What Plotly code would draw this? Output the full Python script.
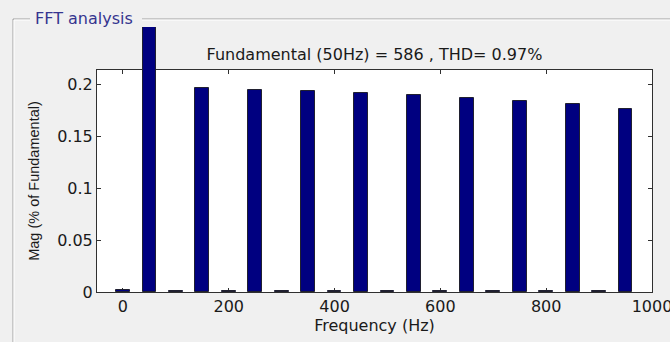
import plotly.graph_objects as go

# Harmonic spectrum, DC up to the 19th harmonic of 50 Hz
freq_hz = [0, 50, 100, 150, 200, 250, 300, 350, 400, 450,
           500, 550, 600, 650, 700, 750, 800, 850, 900, 950]
mag_pct = [0.0018, 100.0, 0.0012, 0.1958, 0.0012, 0.1945, 0.0012, 0.1936, 0.0012, 0.1916,
           0.0012, 0.1894, 0.0012, 0.1862, 0.0012, 0.1833, 0.0012, 0.1804, 0.0012, 0.1760]
x_ticks = [0, 200, 400, 600, 800, 1000]
y_ticks = [0, 0.05, 0.1, 0.15, 0.2]
y_tick_text = ["0", "0.05", "0.1", "0.15", "0.2"]

W, H = 670, 342
L, R, T, B = 97, 652, 70, 292          # axes box in pixels
TOP_CLIP = 27                           # bars may run above the axes up to here
X_RANGE = [-49, 1000]
Y_MAX = 0.2135

BG = "#f0f0f0"
INK = "#1a1a1a"
FONT = "DejaVu Sans"


def px(x):
    return (x - L) / (R - L)


def py(y):
    return (B - y) / (B - TOP_CLIP)


main_top = py(T)

fig = go.Figure()
# empty trace so the framed axes get drawn
fig.add_trace(go.Scatter(x=[None], y=[None], xaxis="x", yaxis="y",
                         showlegend=False, hoverinfo="skip", mode="markers"))
fig.add_trace(go.Bar(
    x=freq_hz, y=mag_pct, width=26,
    marker=dict(color="#000080", line=dict(color="#202030", width=1)),
    xaxis="x2", yaxis="y2", showlegend=False, hoverinfo="x+y",
))

axis_common = dict(
    showline=True, linecolor="#303030", linewidth=1, mirror="allticks",
    ticks="inside", ticklen=4, tickcolor="#303030", showgrid=False, zeroline=False,
    tickfont=dict(family=FONT, size=16, color=INK), ticklabeloverflow="allow",
    automargin=False,
)

fig.update_layout(
    width=W, height=H,
    margin=dict(l=L, r=W - R, t=TOP_CLIP, b=H - B, autoexpand=False),
    paper_bgcolor=BG, plot_bgcolor="rgba(0,0,0,0)",
    xaxis=dict(range=X_RANGE, tickvals=x_ticks, ticktext=[str(v) for v in x_ticks],
               domain=[0, 1], anchor="y",
               title=dict(text="Frequency (Hz)", font=dict(family=FONT, size=16, color=INK),
                          standoff=4),
               **axis_common),
    yaxis=dict(range=[0, Y_MAX], tickvals=y_ticks, ticktext=y_tick_text,
               domain=[0, main_top], anchor="x",
               title=dict(text="Mag (% of Fundamental)",
                          font=dict(family="Liberation Sans", size=14.5, color=INK),
                          standoff=14),
               **axis_common),
    xaxis2=dict(range=X_RANGE, domain=[0, 1], anchor="y2", visible=False),
    yaxis2=dict(range=[0, Y_MAX / main_top], domain=[0, 1], anchor="x2", visible=False),
    title=dict(text="Fundamental (50Hz) = 586 , THD= 0.97%",
               font=dict(family=FONT, size=16, color=INK),
               x=0.5, xref="paper", xanchor="center",
               y=1 - 54 / H, yref="container", yanchor="middle"),
    bargap=0,
)

# white axes background
fig.add_shape(type="rect", xref="x domain", yref="y domain", x0=0, x1=1, y0=0, y1=1,
              fillcolor="white", line=dict(width=0), layer="below")

# etched panel frame with the "FFT analysis" caption
frame_y = py(19)
frame_x = px(13)
for color, d in (("#a0a0a0", 0), ("#ffffff", 1)):
    yy = frame_y - d / (B - TOP_CLIP)
    xx = frame_x + d / (R - L)
    fig.add_shape(type="line", xref="paper", yref="paper",
                  x0=xx, x1=px(30), y0=yy, y1=yy, line=dict(color=color, width=1))
    fig.add_shape(type="line", xref="paper", yref="paper",
                  x0=px(142), x1=px(W), y0=yy, y1=yy, line=dict(color=color, width=1))
    fig.add_shape(type="line", xref="paper", yref="paper",
                  x0=xx, x1=xx, y0=yy, y1=py(H), line=dict(color=color, width=1))

fig.add_annotation(text="FFT analysis", xref="paper", yref="paper",
                   x=px(33), y=py(18), xanchor="left", yanchor="middle",
                   showarrow=False, font=dict(family=FONT, size=16, color="#35358f"))

fig.write_html("out.html")
